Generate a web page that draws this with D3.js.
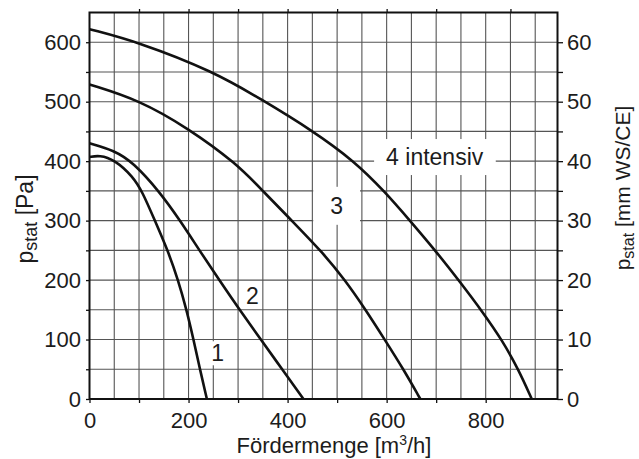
<!DOCTYPE html>
<html>
<head>
<meta charset="utf-8">
<script src="https://cdn.jsdelivr.net/npm/d3@7"></script>
<style>
  html, body { margin: 0; padding: 0; background: #fff; }
  svg { display: block; }
</style>
</head>
<body>
<svg id="chart" width="639" height="459"></svg>
<script>
// ---- data ----
const curve1Q = [0, 20, 50, 88, 107, 132, 158, 179, 196, 210, 223, 237];
const curve1P = [407, 410, 403, 374, 348, 300, 250, 200, 150, 100, 50, 0];

const curve2Q = [0, 50, 88, 142, 183, 222, 262, 303, 346, 389, 432];
const curve2P = [430, 418, 398, 348, 300, 250, 200, 150, 100, 50, 0];

const curve3Q = [0, 100, 200, 297, 351, 412, 471, 516, 556, 596, 634, 668];
const curve3P = [529, 503, 455, 396, 349, 297, 246, 200, 152, 100, 50, 0];

const curve4Q = [0, 100, 250, 349, 449, 535, 597, 647, 701, 748, 795, 833, 866, 893];
const curve4P = [622, 600, 551, 503, 452, 400, 348, 300, 247, 197, 145, 99, 50, 0];

const curveNames = ["1", "2", "3", "4 intensiv"];
const bottomTickValues = [0, 100, 200, 300, 400, 500, 600, 700, 800];
const bottomTickLabels = ["0", "", "200", "", "400", "", "600", "", "800"];
const topTickValues = [100, 200, 300, 400, 500, 600, 700, 850];
const leftTickValues = [0, 50, 100, 150, 200, 250, 300, 350, 400, 450, 500, 550, 600];
const leftTickLabels = ["0", "", "100", "", "200", "", "300", "", "400", "", "500", "", "600"];
const rightTickLabels = ["0", "", "10", "", "20", "", "30", "", "40", "", "50", "", "60"];
const xTitle = "Fördermenge [m";
const xTitleSup = "3";
const xTitleEnd = "/h]";
const leftTitle = ["p", "stat", " [Pa]"];
const rightTitle = ["p", "stat", " [mm WS/CE]"];

// annotation anchors (data units) and box paddings
const labelQ = [259, 329, 499, 697];
const labelP = [77, 173, 325, 407];
const labelPadX = [3, 2, 17, 12];
const labelPadY = [-1, -2, 6, 5];

// ---- layout ----
const svg = d3.select("#chart");
const FONT = "'Liberation Sans', Arial, Helvetica, sans-serif";
const TXT = "#1c1c1c";
const x = d3.scaleLinear().domain([0, 945]).range([89.5, 557.5]);
const y = d3.scaleLinear().domain([0, 650]).range([399, 12.5]);

svg.append("rect").attr("width", 639).attr("height", 459).attr("fill", "#fff");

// grid
const gridG = svg.append("g").attr("stroke", "#555").attr("stroke-width", 1.1);
const gx = d3.range(50, 945, 50);
const gy = d3.range(50, 650, 50);
gridG.selectAll("line.v").data(gx).join("line").attr("class", "v")
  .attr("x1", d => x(d)).attr("x2", d => x(d)).attr("y1", y(0)).attr("y2", y(650));
gridG.selectAll("line.h").data(gy).join("line").attr("class", "h")
  .attr("x1", x(0)).attr("x2", x(945)).attr("y1", d => y(d)).attr("y2", d => y(d));

// label boxes (drawn under curves, over grid)
const labG = svg.append("g");
const labelData = curveNames.map((n, i) => ({ n, q: labelQ[i], p: labelP[i], px: labelPadX[i], py: labelPadY[i] }));
const boxes = labG.selectAll("rect").data(labelData).join("rect").attr("fill", "#fff");

// curves
const series = [
  curve1Q.map((q, i) => [q, curve1P[i]]),
  curve2Q.map((q, i) => [q, curve2P[i]]),
  curve3Q.map((q, i) => [q, curve3P[i]]),
  curve4Q.map((q, i) => [q, curve4P[i]])
];
const line = d3.line().x(d => x(d[0])).y(d => y(d[1])).curve(d3.curveBasis);
svg.append("g").selectAll("path").data(series).join("path")
  .attr("d", line).attr("fill", "none").attr("stroke", "#111")
  .attr("stroke-width", 2.6).attr("stroke-linejoin", "round");

const texts = svg.append("g").selectAll("text").data(labelData).join("text")
  .attr("x", d => x(d.q)).attr("y", d => y(d.p))
  .attr("text-anchor", "middle").attr("dy", "0.35em")
  .attr("font-family", FONT).attr("font-size", 23).attr("fill", TXT)
  .text(d => d.n);
texts.each(function (d, i) {
  const b = this.getBBox();
  d3.select(boxes.nodes()[i])
    .attr("x", b.x - d.px).attr("y", b.y - d.py)
    .attr("width", b.width + 2 * d.px).attr("height", b.height + 2 * d.py);
});

// axes
function styleAxis(g) {
  g.select(".domain").remove();
  g.selectAll(".tick line").attr("stroke", "#111").attr("stroke-width", 1.3);
  g.selectAll(".tick text").attr("font-family", FONT).attr("font-size", 22).attr("fill", TXT);
}
svg.append("g").attr("transform", `translate(${x(0)},0)`)
  .call(d3.axisLeft(y).tickValues(leftTickValues).tickSize(3.5).tickPadding(5)
    .tickFormat((d, i) => leftTickLabels[i]))
  .call(styleAxis);
svg.append("g").attr("transform", `translate(${x(945)},0)`)
  .call(d3.axisRight(y).tickValues(leftTickValues).tickSize(5.5).tickPadding(4)
    .tickFormat((d, i) => rightTickLabels[i]))
  .call(styleAxis);
svg.append("g").attr("transform", `translate(0,${y(0)})`)
  .call(d3.axisBottom(x).tickValues(bottomTickValues).tickSize(4).tickPadding(9)
    .tickFormat((d, i) => bottomTickLabels[i]))
  .call(styleAxis);
svg.append("g").attr("transform", `translate(0,${y(650)})`)
  .call(d3.axisTop(x).tickValues(topTickValues).tickSize(3.5).tickFormat(""))
  .call(styleAxis);

// frame
svg.append("rect")
  .attr("x", x(0)).attr("y", y(650))
  .attr("width", x(945) - x(0)).attr("height", y(0) - y(650))
  .attr("fill", "none").attr("stroke", "#111").attr("stroke-width", 2);

// x title
const xt = svg.append("text").attr("x", 334).attr("y", 453)
  .attr("text-anchor", "middle").attr("font-family", FONT).attr("font-size", 22).attr("fill", TXT);
xt.append("tspan").text(xTitle);
xt.append("tspan").attr("font-size", 14).attr("dy", -8).text(xTitleSup);
xt.append("tspan").attr("dy", 8).text(xTitleEnd);

// y titles
function yTitle(cx, cy, parts, size, subSize) {
  const t = svg.append("text")
    .attr("transform", `translate(${cx},${cy}) rotate(-90)`)
    .attr("text-anchor", "middle").attr("font-family", FONT)
    .attr("font-size", size).attr("fill", TXT);
  t.append("tspan").text(parts[0]);
  t.append("tspan").attr("font-size", subSize).attr("dy", 4).text(parts[1]);
  t.append("tspan").attr("dy", -4).text(parts[2]);
}
yTitle(33, 219, leftTitle, 23, 18);
yTitle(630, 188, rightTitle, 21, 16);
</script>
</body>
</html>
